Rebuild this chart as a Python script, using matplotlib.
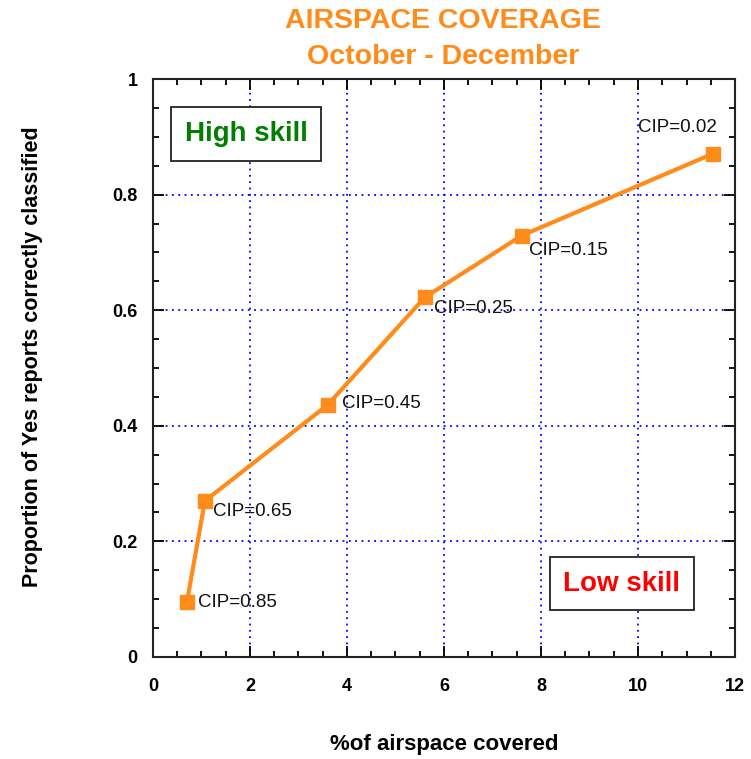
import matplotlib
matplotlib.use("Agg")
import matplotlib.pyplot as plt
from matplotlib.ticker import MultipleLocator

# Data
airspace_pct = [0.70, 1.07, 3.60, 5.60, 7.60, 11.55]
prop_correct = [0.095, 0.270, 0.436, 0.622, 0.729, 0.871]
cip_labels = ["CIP=0.85", "CIP=0.65", "CIP=0.45", "CIP=0.25", "CIP=0.15", "CIP=0.02"]
# label offsets in pixels (dx, dy) and horizontal alignment
label_offsets = [(11, 0, "left"), (8, -11, "left"), (14, 1, "left"),
                 (9, -11, "left"), (7, -15, "left"), (4, 26, "right")]

orange = "#FF8C1A"
plt.rcParams['font.family'] = ['Liberation Sans', 'DejaVu Sans']

fig = plt.figure(figsize=(7.51, 7.59), dpi=100)
ax = fig.add_axes([0.2037, 0.1344, 0.7750, 0.7615])

ax.plot(airspace_pct, prop_correct, color=orange, linewidth=3,
        marker="s", markersize=10, zorder=3)

for x, y, lab, (dx, dy, ha) in zip(airspace_pct, prop_correct, cip_labels, label_offsets):
    ax.annotate(lab, (x, y), xytext=(dx, dy), textcoords="offset pixels",
                ha=ha, va="center", fontsize=13.5, color="#111111", zorder=4)

ax.set_xlim(0, 12)
ax.set_ylim(0, 1)
ax.xaxis.set_major_locator(MultipleLocator(2))
ax.xaxis.set_minor_locator(MultipleLocator(0.5))
ax.yaxis.set_major_locator(MultipleLocator(0.2))
ax.yaxis.set_minor_locator(MultipleLocator(0.05))
ax.set_yticks([0, 0.2, 0.4, 0.6, 0.8, 1.0])
ax.set_yticklabels(["0", "0.2", "0.4", "0.6", "0.8", "1"])

ax.tick_params(which="both", direction="in", top=True, right=True, width=1.3)
ax.tick_params(which="major", length=8, labelsize=13)
ax.tick_params(axis="x", which="major", pad=15)
ax.tick_params(axis="y", which="major", pad=11)
ax.tick_params(which="minor", length=4.5)
for lab in ax.get_xticklabels() + ax.get_yticklabels():
    lab.set_fontweight("bold")
for sp in ax.spines.values():
    sp.set_linewidth(1.5)
    sp.set_color("#222222")

ax.grid(True, which="major", color="#0000EE", linestyle=(0, (1, 2.5)), linewidth=1.3)
ax.set_axisbelow(True)

ax.set_xlabel("%of airspace covered", fontsize=16, fontweight="bold", labelpad=28)
ax.set_ylabel("Proportion of Yes reports correctly classified", fontsize=15.5,
              fontweight="bold", labelpad=50)
ax.yaxis.label.set_y(0.52)

fig.text(0.59, 0.972, "AIRSPACE COVERAGE", ha="center", va="center",
         fontsize=20.5, fontweight="bold", color=orange)
fig.text(0.59, 0.925, "October - December", ha="center", va="center",
         fontsize=20.5, fontweight="bold", color=orange)

box = dict(boxstyle="square,pad=0.5", facecolor="white", edgecolor="#222222", linewidth=1.3)
ax.text(1.92, 0.905, "High skill", ha="center", va="center", fontsize=20,
        fontweight="bold", color="#008000", bbox=box, zorder=5)
ax.text(9.67, 0.127, "Low skill", ha="center", va="center", fontsize=20,
        fontweight="bold", color="#FF0000", bbox=box, zorder=5)

fig.savefig("out.png", dpi=100)
